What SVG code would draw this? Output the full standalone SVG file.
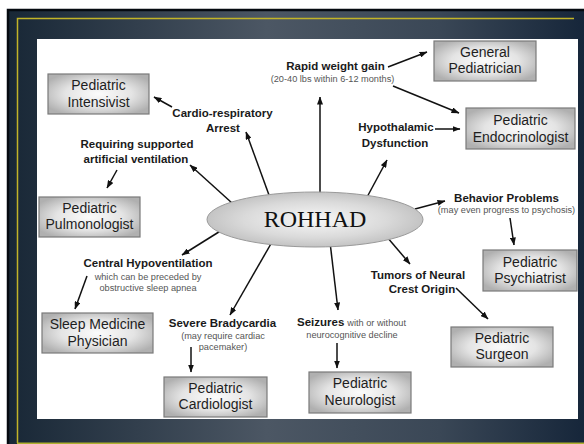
<svg xmlns="http://www.w3.org/2000/svg" width="584" height="444" viewBox="0 0 584 444">
<defs>
<linearGradient id="bg" x1="0" y1="0" x2="1" y2="0">
<stop offset="0" stop-color="#182736"/>
<stop offset="0.45" stop-color="#4c5764"/>
<stop offset="0.75" stop-color="#3a4756"/>
<stop offset="1" stop-color="#16263a"/>
</linearGradient>
<radialGradient id="boxg" cx="0.5" cy="0.5" r="0.6">
<stop offset="0" stop-color="#fbfbfb"/>
<stop offset="0.55" stop-color="#e4e4e4"/>
<stop offset="1" stop-color="#b0b0b0"/>
</radialGradient>
<radialGradient id="ellg" cx="0.5" cy="0.5" r="0.55">
<stop offset="0" stop-color="#f8f8f8"/>
<stop offset="0.6" stop-color="#dadada"/>
<stop offset="1" stop-color="#bdbdbd"/>
</radialGradient>
<marker id="ah" viewBox="0 0 8 6" refX="7.5" refY="3" markerWidth="8" markerHeight="6" markerUnits="userSpaceOnUse" orient="auto">
<path d="M0,0 L8,3 L0,6 z" fill="#111"/>
</marker>
<style>
.box{fill:url(#boxg);stroke:#7a7a7a;stroke-width:1.2}
.bt{font-family:"Liberation Sans",Arial,sans-serif;font-size:14px;fill:#1e1e1e;text-anchor:middle}
.lb{font-family:"Liberation Sans",Arial,sans-serif;font-size:11.5px;font-weight:bold;fill:#1a1a1a;text-anchor:middle}
.sb{font-family:"Liberation Sans",Arial,sans-serif;font-size:9.2px;fill:#555;text-anchor:middle}
.st{text-anchor:start}
.sm{font-weight:normal;font-size:9.2px;fill:#555}
.cn line{stroke:#111;stroke-width:1.5;marker-end:url(#ah)}
</style>
</defs>
<rect x="0" y="0" width="584" height="444" fill="#fff"/>
<rect x="7" y="9" width="577" height="435" fill="url(#bg)"/>
<path d="M8,444 V10 H584" fill="none" stroke="#050a10" stroke-width="2.5"/>
<path d="M17.5,443 V18.5 H574" fill="none" stroke="#c2b428" stroke-width="1.5"/>
<line x1="17" y1="443.2" x2="584" y2="443.2" stroke="#b0b030" stroke-width="1.5"/>
<rect x="37" y="39" width="541" height="380" fill="#fff"/>

<g id="connectors" class="cn">
<line x1="320" y1="193" x2="320" y2="97"/>
<line x1="388" y1="67" x2="427" y2="52"/>
<line x1="393" y1="86" x2="459" y2="113"/>
<line x1="435" y1="129" x2="460" y2="129"/>
<line x1="366" y1="199" x2="387" y2="160"/>
<line x1="415" y1="209" x2="445" y2="201"/>
<line x1="510" y1="218" x2="514" y2="245"/>
<line x1="387" y1="237" x2="410" y2="264"/>
<line x1="456" y1="288" x2="488" y2="319"/>
<line x1="330" y1="242" x2="338" y2="310"/>
<line x1="337" y1="343" x2="337" y2="368"/>
<line x1="272" y1="242" x2="230" y2="315"/>
<line x1="191" y1="347" x2="191" y2="372"/>
<line x1="222" y1="230" x2="182" y2="255"/>
<line x1="87" y1="276" x2="75" y2="309"/>
<line x1="232" y1="203" x2="190" y2="165"/>
<line x1="117" y1="170" x2="107" y2="188"/>
<line x1="269" y1="195" x2="246" y2="132"/>
<line x1="172" y1="107" x2="154" y2="97"/>
</g>

<g id="rohhad">
<ellipse cx="315" cy="219.5" rx="108" ry="27.5" fill="url(#ellg)" stroke="#9a9a9a" stroke-width="1"/>
<text x="315" y="227" font-family="'Liberation Serif','Times New Roman',serif" font-size="24" fill="#111" text-anchor="middle">ROHHAD</text>
</g>

<g id="intensivist"><rect class="box" x="48" y="74" width="101" height="40"/><text class="bt" x="98.5" y="90">Pediatric</text><text class="bt" x="98.5" y="107">Intensivist</text></g>
<g id="pulmonologist"><rect class="box" x="39" y="197" width="101" height="40"/><text class="bt" x="89.5" y="213">Pediatric</text><text class="bt" x="89.5" y="229">Pulmonologist</text></g>
<g id="sleep"><rect class="box" x="42" y="313" width="111" height="40"/><text class="bt" x="97.5" y="329">Sleep Medicine</text><text class="bt" x="97.5" y="346">Physician</text></g>
<g id="cardiologist"><rect class="box" x="164" y="377" width="103" height="40"/><text class="bt" x="215.5" y="393">Pediatric</text><text class="bt" x="215.5" y="409">Cardiologist</text></g>
<g id="neurologist"><rect class="box" x="309" y="372" width="102" height="41"/><text class="bt" x="360" y="388">Pediatric</text><text class="bt" x="360" y="405">Neurologist</text></g>
<g id="surgeon"><rect class="box" x="451" y="327" width="102" height="40"/><text class="bt" x="502" y="343">Pediatric</text><text class="bt" x="502" y="359">Surgeon</text></g>
<g id="psychiatrist"><rect class="box" x="483" y="250" width="94" height="41"/><text class="bt" x="530" y="267">Pediatric</text><text class="bt" x="530" y="283">Psychiatrist</text></g>
<g id="endocrinologist"><rect class="box" x="466" y="108" width="109" height="41"/><text class="bt" x="520.5" y="125">Pediatric</text><text class="bt" x="520.5" y="142">Endocrinologist</text></g>
<g id="general"><rect class="box" x="434" y="41" width="102" height="40"/><text class="bt" x="485" y="57">General</text><text class="bt" x="485" y="73">Pediatrician</text></g>

<g id="weight"><text class="lb" x="335.5" y="70">Rapid weight gain</text><text class="sb" x="332.5" y="82">(20-40 lbs within 6-12 months)</text></g>
<g id="cardioresp"><text class="lb" x="222.5" y="117">Cardio-respiratory</text><text class="lb" x="223" y="132">Arrest</text></g>
<g id="ventilation"><text class="lb" x="137" y="148">Requiring supported</text><text class="lb" x="136" y="163">artificial ventilation</text></g>
<g id="hypothalamic"><text class="lb" x="396" y="131">Hypothalamic</text><text class="lb" x="395" y="147">Dysfunction</text></g>
<g id="behavior"><text class="lb" x="506.5" y="202">Behavior Problems</text><text class="sb" x="506.5" y="213">(may even progress to psychosis)</text></g>
<g id="hypovent"><text class="lb" x="148" y="267">Central Hypoventilation</text><text class="sb" x="148" y="280">which can be preceded by</text><text class="sb" x="148" y="291">obstructive sleep apnea</text></g>
<g id="brady"><text class="lb" x="222.5" y="327">Severe Bradycardia</text><text class="sb" x="223" y="339">(may require cardiac</text><text class="sb" x="223" y="350">pacemaker)</text></g>
<g id="seizures"><text class="lb st" x="297" y="326">Seizures<tspan class="sm" dx="3">with or without</tspan></text><text class="sb" x="352" y="338">neurocognitive decline</text></g>
<g id="tumors"><text class="lb" x="418" y="279">Tumors of Neural</text><text class="lb" x="422" y="293">Crest Origin</text></g>
</svg>
